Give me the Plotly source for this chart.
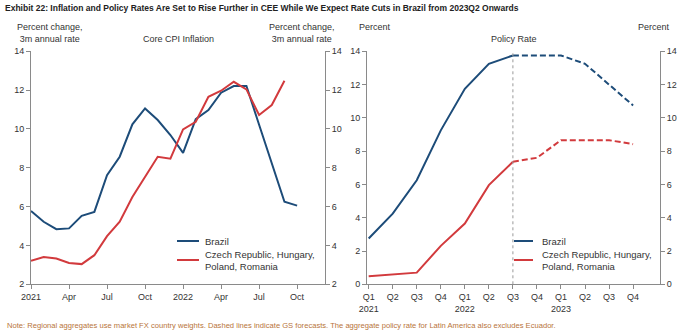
import plotly.graph_objects as go

# ---- data -------------------------------------------------------------
months = ["2021-01", "2021-02", "2021-03", "2021-04", "2021-05", "2021-06",
          "2021-07", "2021-08", "2021-09", "2021-10", "2021-11", "2021-12",
          "2022-01", "2022-02", "2022-03", "2022-04", "2022-05", "2022-06",
          "2022-07", "2022-08", "2022-09", "2022-10"]
brazil_cpi = [5.78, 5.22, 4.84, 4.88, 5.53, 5.73, 7.62, 8.57, 10.24, 11.06, 10.46,
              9.69, 8.77, 10.50, 10.97, 11.87, 12.21, 12.21, 10.22, 8.24, 6.25, 6.05]
cee_cpi = [3.21, 3.41, 3.33, 3.10, 3.04, 3.50, 4.48, 5.22, 6.50, 7.55, 8.57,
           8.47, 9.98, 10.37, 11.66, 11.97, 12.43, 12.04, 10.72, 11.23, 12.48]
month_ticks = [0, 3, 6, 9, 12, 15, 18, 21]
month_tick_text = ["2021", "Apr", "Jul", "Oct", "2022", "Apr", "Jul", "Oct"]

quarters = ["Q1<br>2021", "Q2", "Q3", "Q4", "Q1<br>2022", "Q2", "Q3", "Q4",
            "Q1<br>2023", "Q2", "Q3", "Q4"]
brazil_policy = [2.75, 4.25, 6.25, 9.25, 11.75, 13.25, 13.75, 13.75, 13.75, 13.25, 12.0, 10.75]
cee_policy = [0.48, 0.58, 0.70, 2.31, 3.65, 5.96, 7.36, 7.60, 8.66, 8.66, 8.66, 8.42]
forecast_start = 6  # 2022Q3: last actual, first forecast point

# ---- styling ----------------------------------------------------------
W, H = 682, 334
BLUE = "#1d4c79"
RED = "#d23a3d"
AXIS = "#8a8a8a"
TXT = "#333333"
FONT = "Liberation Sans, Arial, sans-serif"


def px_x(x):
    return x / W


def px_y(y):
    return (H - y) / H


fig = go.Figure()

# ---- left panel: core CPI inflation ----------------------------------
fig.add_trace(go.Scatter(x=list(range(len(brazil_cpi))), y=brazil_cpi, mode="lines",
                         line=dict(color=BLUE, width=2), xaxis="x", yaxis="y",
                         showlegend=False))
fig.add_trace(go.Scatter(x=list(range(len(cee_cpi))), y=cee_cpi, mode="lines",
                         line=dict(color=RED, width=2), xaxis="x", yaxis="y",
                         showlegend=False))
# carrier for the mirrored right-hand axis
fig.add_trace(go.Scatter(x=[0], y=[None], mode="lines", xaxis="x", yaxis="y2",
                         showlegend=False, hoverinfo="skip"))

# ---- right panel: policy rate -----------------------------------------
qx = list(range(len(quarters)))
fs = forecast_start
for vals, col in ((brazil_policy, BLUE), (cee_policy, RED)):
    fig.add_trace(go.Scatter(x=qx[:fs + 1], y=vals[:fs + 1], mode="lines",
                             line=dict(color=col, width=2), xaxis="x2", yaxis="y3",
                             showlegend=False))
    fig.add_trace(go.Scatter(x=qx[fs:], y=vals[fs:], mode="lines",
                             line=dict(color=col, width=2, dash="6px,3px"),
                             xaxis="x2", yaxis="y3", showlegend=False))
fig.add_trace(go.Scatter(x=[0], y=[None], mode="lines", xaxis="x2", yaxis="y4",
                         showlegend=False, hoverinfo="skip"))

axis_common = dict(showgrid=False, zeroline=False, showline=True, linecolor=AXIS,
                   linewidth=1, ticks="outside", tickcolor=AXIS, ticklen=4,
                   automargin=False,
                   tickfont=dict(family=FONT, size=9, color=TXT))

left_dom = [px_x(31), px_x(325)]
right_dom = [px_x(367), px_x(660)]
y_dom = [px_y(284.3), px_y(51.3)]

fig.update_layout(
    width=W, height=H,
    margin=dict(l=0, r=0, t=0, b=0, autoexpand=False),
    paper_bgcolor="white", plot_bgcolor="white",
    showlegend=False,
    xaxis=dict(domain=left_dom, range=[0, 23.2], tickvals=month_ticks,
               ticktext=month_tick_text, anchor="y", **axis_common),
    yaxis=dict(domain=y_dom, range=[2, 14], tickvals=[2, 4, 6, 8, 10, 12, 14],
               anchor="x", **axis_common),
    yaxis2=dict(domain=y_dom, range=[2, 14], tickvals=[2, 4, 6, 8, 10, 12, 14],
                overlaying="y", side="right", anchor="x", **axis_common),
    xaxis2=dict(domain=right_dom, range=[-0.07, 12.12], tickvals=qx,
                ticktext=quarters, anchor="y3", **axis_common),
    yaxis3=dict(domain=y_dom, range=[0, 14], tickvals=[0, 2, 4, 6, 8, 10, 12, 14],
                anchor="x2", **axis_common),
    yaxis4=dict(domain=y_dom, range=[0, 14], tickvals=[0, 2, 4, 6, 8, 10, 12, 14],
                overlaying="y3", side="right", anchor="x2", **axis_common),
)

# forecast divider
fig.add_shape(type="line", xref="x2", yref="y3", x0=fs, x1=fs, y0=0, y1=14,
              line=dict(color="#9a9a9a", width=1, dash="dot"))

# ---- texts ------------------------------------------------------------
def note(text, x, y, size=9, anchor="left", color=TXT, weight="normal"):
    fig.add_annotation(text=text, x=px_x(x), y=px_y(y), xref="paper", yref="paper",
                       xanchor=anchor, yanchor="middle", showarrow=False,
                       align=anchor, borderpad=0,
                       font=dict(family=FONT, size=size, color=color, weight=weight))


note("Exhibit 22: Inflation and Policy Rates Are Set to Rise Further in CEE While We "
     "Expect Rate Cuts in Brazil from 2023Q2 Onwards", 4, 8, size=8.5,
     color="#222222", weight="bold")

note("Percent change,<br>3m annual rate", 50, 33, anchor="center")
note("Core CPI Inflation", 178, 39, anchor="center")
note("Percent change,<br>3m annual rate", 302, 33, anchor="center")
note("Percent", 358, 27)
note("Policy Rate", 514, 39, anchor="center")
note("Percent", 671, 27, anchor="right")

# legends
legend_rows = [(BLUE, "Brazil", 241), (RED, "Czech Republic, Hungary,<br>Poland, Romania", 260)]
for x0, x1, tx in ((177, 199, 204), (514, 533, 541)):
    for col, label, y in legend_rows:
        fig.add_shape(type="line", xref="paper", yref="paper", x0=px_x(x0), x1=px_x(x1),
                      y0=px_y(y), y1=px_y(y), line=dict(color=col, width=2))
        note(label, tx, y, size=9.5)

note("Note: Regional aggregates use market FX country weights. Dashed lines indicate GS "
     "forecasts. The aggregate policy rate for Latin America also excludes Ecuador.",
     6, 325, size=7.6, color="#b8743a")

fig.write_html("out.html")
